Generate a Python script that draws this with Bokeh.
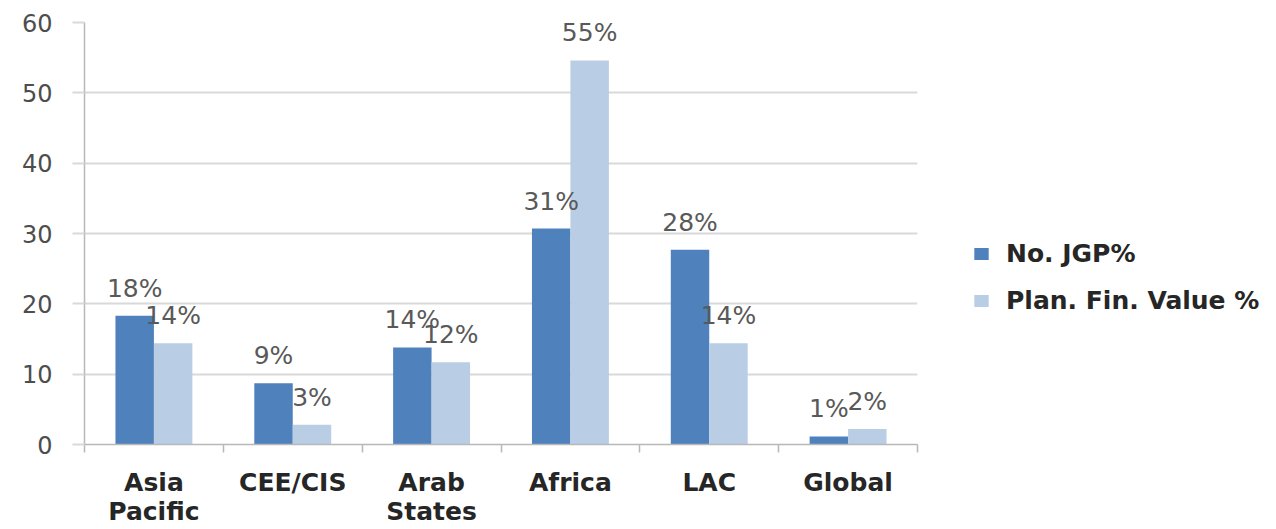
from bokeh.plotting import figure
from bokeh.models import (FactorRange, Range1d, LinearAxis, CategoricalAxis, FixedTicker,
                          Legend, LegendItem, ColumnDataSource, LabelSet, CustomJSTickFormatter)
from bokeh.transform import dodge
from bokeh.core.properties import value
from bokeh.embed import file_html
from bokeh.resources import INLINE

categories = ["Asia Pacific", "CEE/CIS", "Arab States", "Africa", "LAC", "Global"]
label_line1 = ["Asia", "CEE/CIS", "Arab", "Africa", "LAC", "Global"]
label_line2 = ["Pacific", "", "States", "", "", ""]
series_names = ["No. JGP%", "Plan. Fin. Value %"]
no_jgp = [18.3, 8.7, 13.8, 30.7, 27.7, 1.15]
plan_fin_value = [14.4, 2.8, 11.7, 54.6, 14.4, 2.2]
y_ticks = [0, 10, 20, 30, 40, 50, 60]

DARK = "#4f81bd"
LIGHT = "#b9cde5"
FONT = "DejaVu Sans"

src = ColumnDataSource(dict(
    cat=categories,
    jgp=no_jgp,
    pfv=plan_fin_value,
    jgp_lbl=[f"{round(v)}%" for v in no_jgp],
    pfv_lbl=[f"{round(v)}%" for v in plan_fin_value],
))

p = figure(x_range=FactorRange(*categories, range_padding=0, factor_padding=0),
           y_range=Range1d(0, 60),
           frame_width=833, frame_height=422,
           min_border_left=84, min_border_top=22, min_border_right=10, min_border_bottom=0,
           x_axis_location=None,
           output_backend="svg", toolbar_location=None)
p.outline_line_color = None
p.xgrid.grid_line_color = None
p.ygrid.grid_line_color = "#d9d9d9"
p.ygrid.grid_line_width = 2

# y axis
p.yaxis.ticker = FixedTicker(ticks=y_ticks)
p.yaxis.major_tick_out = 12
p.yaxis.major_tick_in = 0
p.yaxis.minor_tick_line_color = None
p.yaxis.axis_line_color = "#b8b8b8"
p.yaxis.axis_line_width = 1.5
p.yaxis.major_tick_line_color = "#d9d9d9"
p.yaxis.major_tick_line_width = 2
p.yaxis.major_label_standoff = 20
p.yaxis.major_label_text_font = FONT
p.yaxis.major_label_text_font_size = "24px"
p.yaxis.major_label_text_color = "#4d4d4d"

# x axis: boundary ticks (between categories, in the factor range's own units) + category labels
tick_axis = LinearAxis(ticker=FixedTicker(ticks=list(range(len(categories) + 1)), minor_ticks=[]),
                       major_label_text_font_size="1px", major_label_text_alpha=0,
                       major_tick_out=8, major_tick_in=0, major_label_standoff=0,
                       axis_line_color="#b8b8b8", axis_line_width=1.5,
                       major_tick_line_color="#b8b8b8", major_tick_line_width=1.5,
                       minor_tick_line_color=None)
p.add_layout(tick_axis, "below")

for lines, standoff in ((label_line1, 9), (label_line2, -9)):
    fmt = CustomJSTickFormatter(args=dict(mapping=dict(zip(categories, lines))),
                                code="const v = mapping[tick]; return v === undefined ? tick : v;")
    ax = CategoricalAxis(formatter=fmt,
                         axis_line_color=None, major_tick_line_color=None,
                         minor_tick_line_color=None,
                         major_label_standoff=standoff,
                         major_label_text_font=FONT,
                         major_label_text_font_style="bold",
                         major_label_text_font_size="25px",
                         major_label_text_color="#262626")
    p.add_layout(ax, "below")

off = 0.1385
bw = 0.277
r1 = p.vbar(x=dodge("cat", -off, range=p.x_range), top="jgp", width=bw, source=src,
            fill_color=DARK, line_color=None)
r2 = p.vbar(x=dodge("cat", off, range=p.x_range), top="pfv", width=bw, source=src,
            fill_color=LIGHT, line_color=None)

for field, lbl, o in (("jgp", "jgp_lbl", -off), ("pfv", "pfv_lbl", off)):
    ls = LabelSet(x=dodge("cat", o, range=p.x_range), y=field, text=lbl, source=src,
                  text_align="center", text_baseline="alphabetic", y_offset=19,
                  text_font=value(FONT), text_font_size="25px", text_color="#595959")
    p.add_layout(ls)

legend = Legend(items=[LegendItem(label=series_names[0], renderers=[r1]),
                       LegendItem(label=series_names[1], renderers=[r2])],
                location=(55, 129), orientation="vertical",
                glyph_width=18, glyph_height=15, label_standoff=16, spacing=18,
                padding=0, margin=0, border_line_color=None, background_fill_alpha=0,
                label_text_font=FONT, label_text_font_style="bold",
                label_text_font_size="25px", label_text_color="#262626")
p.add_layout(legend, "right")

open("out.html", "w").write(file_html(p, INLINE))
